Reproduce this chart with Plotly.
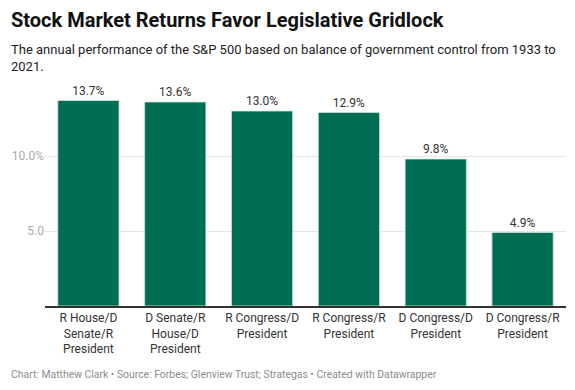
import plotly.graph_objects as go

categories = ["R House/D<br>Senate/R<br>President", "D Senate/R<br>House/D<br>President",
              "R Congress/D<br>President", "R Congress/R<br>President",
              "D Congress/D<br>President", "D Congress/R<br>President"]
returns = [13.7, 13.6, 13.0, 12.9, 9.8, 4.9]
tick_vals = [5, 10]
tick_text = ["5.0", "10.0%"]

FONT = "Roboto"
L, R, T, B = 45, 9, 96, 84
W, H = 575, 390
pw, ph = W - L - R, H - T - B

def px(x):
    return (x - L) / pw

def py(y):
    return (H - B - y) / ph

fig = go.Figure(go.Bar(
    x=categories, y=returns,
    marker=dict(color="#006e54", line=dict(color="#cfe3dc", width=0.8)),
    text=[f"{v:.1f}%" for v in returns], textposition="outside",
    textfont=dict(family=FONT, size=12, color="#333333"),
    cliponaxis=False, hoverinfo="skip",
))
fig.update_layout(
    width=W, height=H, paper_bgcolor="white", plot_bgcolor="white",
    margin=dict(l=L, r=R, t=T, b=B, autoexpand=False),
    bargap=0.295, showlegend=False,
    font=dict(family=FONT),
    xaxis=dict(showline=True, linecolor="#333333", linewidth=1.5, ticks="", automargin=False,
               tickfont=dict(family=FONT, size=12, color="#333333"), fixedrange=True),
    yaxis=dict(range=[0, 14], tickvals=tick_vals, ticktext=tick_text, automargin=False,
               showgrid=True, gridcolor="#e5e5e5", gridwidth=1, zeroline=False,
               tickfont=dict(family=FONT, size=12, color="#aaaaaa"), ticks="", fixedrange=True),
    annotations=[
        dict(text="<b>Stock Market Returns Favor Legislative Gridlock</b>", x=px(9), y=py(20),
             xref="paper", yref="paper", showarrow=False, xanchor="left", yanchor="middle",
             font=dict(family=FONT, size=20, color="#111111")),
        dict(text="The annual performance of the S&P 500 based on balance of government control from 1933 to<br>2021.",
             x=px(9), y=py(58), xref="paper", yref="paper", showarrow=False, xanchor="left",
             yanchor="middle", align="left",
             font=dict(family=FONT, size=13, color="#222222")),
        dict(text="Chart: Matthew Clark • Source: Forbes; Glenview Trust; Strategas • Created with Datawrapper",
             x=px(9), y=py(374), xref="paper", yref="paper", showarrow=False, xanchor="left",
             yanchor="middle",
             font=dict(family=FONT, size=10.4, color="#8c8c8c")),
    ],
)
fig.write_html("out.html", config={"displayModeBar": False},
               post_script="document.body.style.margin='0';document.body.style.overflow='hidden';")
